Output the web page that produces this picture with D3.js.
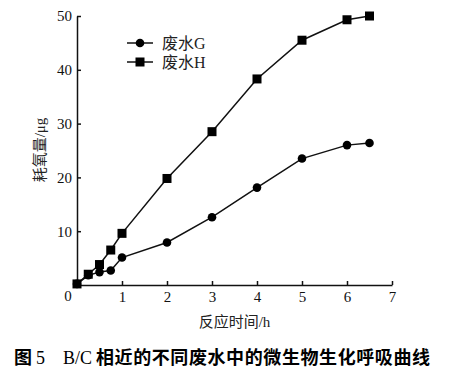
<!DOCTYPE html>
<html><head><meta charset="utf-8">
<script src="https://cdn.jsdelivr.net/npm/d3@7"></script>
<style>body{margin:0;background:#fff}svg{display:block}</style>
</head><body>
<svg id="c" width="456" height="379"></svg>
<script>
const timeG = [0, 0.25, 0.5, 0.75, 1, 2, 3, 4, 5, 6, 6.5];
const valuesG = [0.2, 1.8, 2.4, 2.7, 5.1, 7.9, 12.6, 18.1, 23.5, 26.0, 26.4];
const timeH = [0, 0.25, 0.5, 0.75, 1, 2, 3, 4, 5, 6, 6.5];
const valuesH = [0.2, 2.0, 3.8, 6.5, 9.6, 19.8, 28.5, 38.3, 45.5, 49.3, 50.0];
const seriesNames = ["废水G", "废水H"];
const xTicks = [0, 1, 2, 3, 4, 5, 6, 7];
const yTicks = [10, 20, 30, 40, 50];
const xTitle = "反应时间/h";
const yTitle = "耗氧量/μg";

const svg = d3.select("#c");
const serif = "'Liberation Serif','Times New Roman','Noto Sans CJK SC',serif";
const x = d3.scaleLinear().domain([0, 7]).range([77, 392]);
const y = d3.scaleLinear().domain([0, 50]).range([285, 16]);

// axes
const xAxis = svg.append("g").attr("transform", `translate(0,${y(0)})`)
  .call(d3.axisBottom(x).tickValues(xTicks).tickSize(-4).tickSizeOuter(0).tickPadding(6).tickFormat(d => d === 0 ? "" : d));
const yAxis = svg.append("g").attr("transform", `translate(${x(0)},0)`)
  .call(d3.axisLeft(y).tickValues(yTicks).tickSize(-4).tickSizeOuter(0).tickPadding(5));
[xAxis, yAxis].forEach(g => {
  g.selectAll("path,line").attr("stroke", "#111").attr("stroke-width", 1.5);
  g.selectAll("text").attr("font-family", serif).attr("font-size", 15).attr("fill", "#111");
});
// origin label
svg.append("text").attr("x", 68).attr("y", 301).attr("text-anchor", "middle")
  .attr("font-family", serif).attr("font-size", 15).attr("fill", "#111").text("0");

// titles
svg.append("text").attr("x", x(3.5)).attr("y", 327).attr("text-anchor", "middle")
  .attr("font-family", serif).attr("font-size", 15).attr("fill", "#222").text(xTitle);
svg.append("text").attr("transform", "translate(45,150) rotate(-90)").attr("text-anchor", "middle")
  .attr("font-family", serif).attr("font-size", 15).attr("fill", "#222").text(yTitle);

// series
const line = d3.line().x(d => x(d[0])).y(d => y(d[1]));
const dataG = timeG.map((t, i) => [t, valuesG[i]]);
const dataH = timeH.map((t, i) => [t, valuesH[i]]);
svg.append("path").datum(dataG).attr("d", line).attr("fill", "none").attr("stroke", "#111").attr("stroke-width", 1.5);
svg.append("path").datum(dataH).attr("d", line).attr("fill", "none").attr("stroke", "#111").attr("stroke-width", 1.5);
svg.selectAll(".g").data(dataG).enter().append("circle")
  .attr("cx", d => x(d[0])).attr("cy", d => y(d[1])).attr("r", 4.3).attr("fill", "#000");
svg.selectAll(".h").data(dataH).enter().append("rect")
  .attr("x", d => x(d[0]) - 4.5).attr("y", d => y(d[1]) - 4.5).attr("width", 9).attr("height", 9).attr("fill", "#000");

// legend
const lg = [{n: seriesNames[0], t: "c", yy: 43}, {n: seriesNames[1], t: "s", yy: 62}];
lg.forEach(l => {
  svg.append("line").attr("x1", 127).attr("x2", 153).attr("y1", l.yy).attr("y2", l.yy).attr("stroke", "#111").attr("stroke-width", 1.5);
  if (l.t === "c") svg.append("circle").attr("cx", 140).attr("cy", l.yy).attr("r", 4.3).attr("fill", "#000");
  else svg.append("rect").attr("x", 135.5).attr("y", l.yy - 4.5).attr("width", 9).attr("height", 9).attr("fill", "#000");
  svg.append("text").attr("x", 162).attr("y", l.yy + 5.5).attr("font-family", serif).attr("font-size", 16).attr("fill", "#222").text(l.n);
});

// caption
const cap = svg.append("text").attr("y", 364).attr("font-size", 18).attr("fill", "#000");
cap.append("tspan").attr("x", 14).attr("font-family", "'Noto Sans CJK SC',sans-serif").attr("font-weight", "bold").text("图");
cap.append("tspan").attr("x", 36).attr("font-family", serif).text("5");
cap.append("tspan").attr("x", 63).attr("font-family", serif).text("B/C");
cap.append("tspan").attr("x", 96).attr("font-family", "'Noto Sans CJK SC',sans-serif").attr("font-weight", "bold")
  .attr("textLength", 334).attr("lengthAdjust", "spacing").text("相近的不同废水中的微生物生化呼吸曲线");
</script>
</body></html>
